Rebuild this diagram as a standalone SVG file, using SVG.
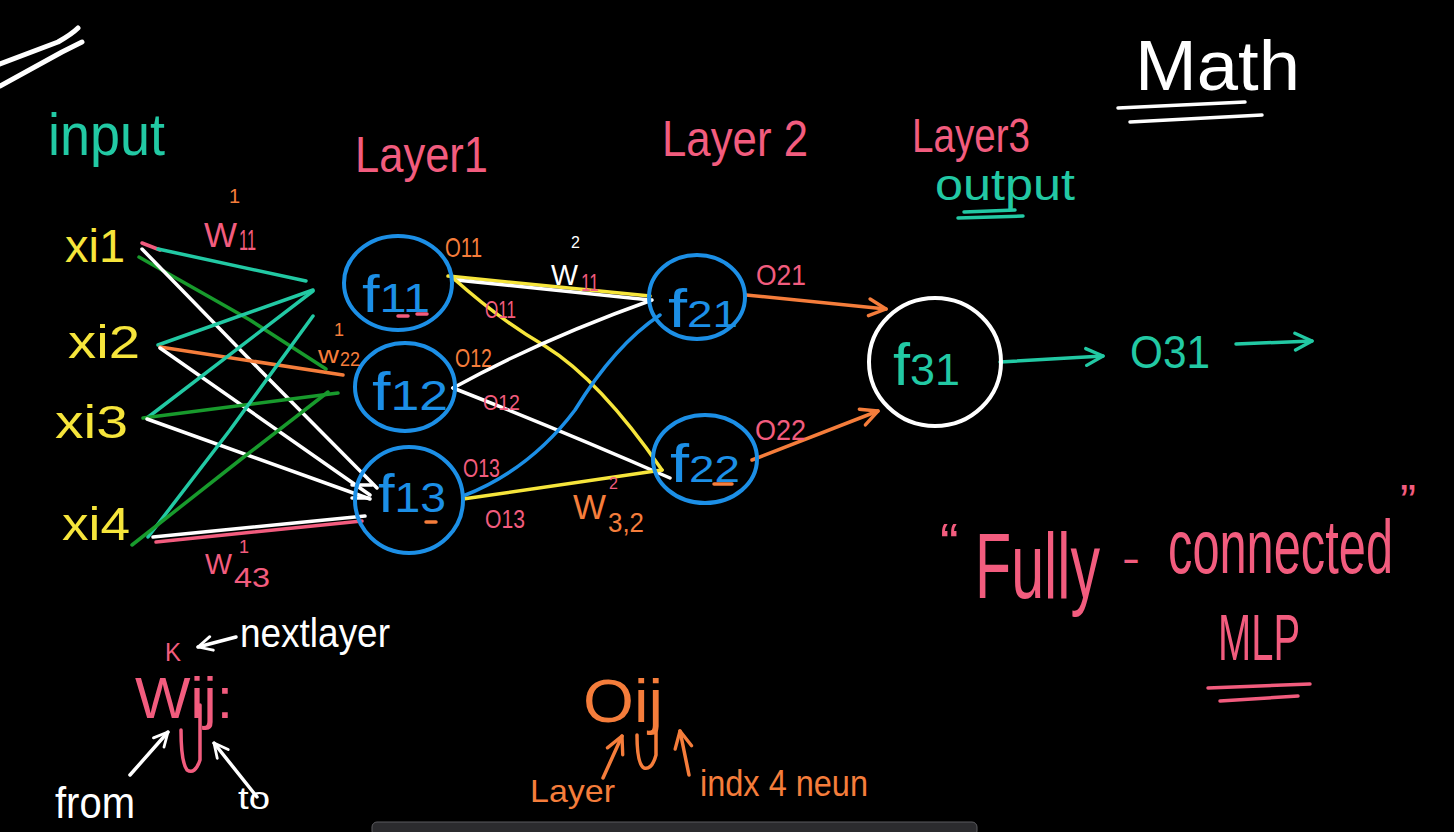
<svg xmlns="http://www.w3.org/2000/svg" width="1454" height="832" viewBox="0 0 1454 832">
<defs>
<style>
.t{font-family:"Liberation Sans","DejaVu Sans",sans-serif;}
.ln{fill:none;stroke-width:3.5;stroke-linecap:round;stroke-linejoin:round;}
.circ{fill:none;stroke:#1c8fe6;stroke-width:4;}
.teal{fill:#22c9a4;} .yel{fill:#f6e53b;} .pink{fill:#f25c7e;} .org{fill:#f57d3b;} .wh{fill:#ffffff;} .blue{fill:#1c8fe6;}
.sTeal{stroke:#22c9a4;} .sYel{stroke:#f6e53b;} .sPink{stroke:#f25c7e;} .sOrg{stroke:#f57d3b;} .sWh{stroke:#ffffff;} .sBlue{stroke:#1c8fe6;} .sGrn{stroke:#189a2c;}
</style>
<marker id="ahOrg" viewBox="0 0 10 10" refX="9" refY="5" markerWidth="6" markerHeight="6" orient="auto" markerUnits="strokeWidth"><path d="M1,1 L9,5 L1,9" fill="none" stroke="#f57d3b" stroke-width="1.6" stroke-linecap="round" stroke-linejoin="round"/></marker>
<marker id="ahTeal" viewBox="0 0 10 10" refX="9" refY="5" markerWidth="6" markerHeight="6" orient="auto" markerUnits="strokeWidth"><path d="M1,1 L9,5 L1,9" fill="none" stroke="#22c9a4" stroke-width="1.6" stroke-linecap="round" stroke-linejoin="round"/></marker>
<marker id="ahWh" viewBox="0 0 10 10" refX="9" refY="5" markerWidth="5" markerHeight="5" orient="auto" markerUnits="strokeWidth"><path d="M1,1 L9,5 L1,9" fill="none" stroke="#ffffff" stroke-width="1.6" stroke-linecap="round" stroke-linejoin="round"/></marker>
</defs>
<rect width="1454" height="832" fill="#000000"/>

<!-- top-left strokes -->
<g id="corner-strokes" class="ln sWh" style="stroke-width:5">
<path d="M0,64 L58,42 Q72,34 78,28"/>
<path d="M0,86 L62,52 Q74,46 82,42"/>
</g>

<!-- headings -->
<g id="headings" class="t">
<text class="teal" x="48" y="155" font-size="60" textLength="117" lengthAdjust="spacingAndGlyphs">input</text>
<text class="pink" x="355" y="172" font-size="50" textLength="133" lengthAdjust="spacingAndGlyphs">Layer1</text>
<text class="pink" x="662" y="156" font-size="50" textLength="146" lengthAdjust="spacingAndGlyphs">Layer 2</text>
<text class="pink" x="912" y="152" font-size="48" textLength="118" lengthAdjust="spacingAndGlyphs">Layer3</text>
<text class="teal" x="935" y="200" font-size="44" textLength="140" lengthAdjust="spacingAndGlyphs">output</text>
<path class="ln sTeal" d="M964,212 L1015,210 M958,218 L1023,216"/>
<text class="wh" x="1135" y="90" font-size="70" textLength="165" lengthAdjust="spacingAndGlyphs">Math</text>
<path class="ln sWh" d="M1118,108 L1245,102 M1130,122 L1262,115"/>
</g>

<!-- connectors -->
<g id="connectors">
<!-- input -> layer1 -->
<path class="ln sPink" d="M142,243 L160,250"/>
<path class="ln sTeal" d="M158,249 L306,281"/>
<path class="ln sGrn" d="M139,257 L250,320 L326,369"/>
<path class="ln sWh" d="M142,249 L260,370 L377,488"/>
<path class="ln sTeal" d="M158,345 L313,290"/>
<path class="ln sOrg" d="M160,347 L343,375"/>
<path class="ln sWh" d="M160,348 L370,495"/>
<path class="ln sTeal" d="M147,418 L313,291"/>
<path class="ln sGrn" d="M143,418 L338,393"/>
<path class="ln sWh" d="M147,419 L370,499"/>
<path class="ln sTeal" d="M148,537 L230,430 L313,316"/>
<path class="ln sGrn" d="M132,545 L240,460 L328,392"/>
<path class="ln sPink" d="M156,542 L362,521"/>
<path class="ln sWh" d="M153,537 L365,516"/>
<path class="ln sWh" d="M352,485 L372,485 M352,498 L368,498"/>
<!-- layer1 -> layer2 -->
<path class="ln sYel" d="M448,276 L650,296"/>
<path class="ln sWh" d="M456,280 L650,300"/>
<path class="ln sYel" d="M453,278 Q500,320 545,346 Q600,380 662,470"/>
<path class="ln sWh" d="M453,388 Q540,340 652,300"/>
<path class="ln sWh" d="M453,388 Q560,430 670,478"/>
<path class="ln sBlue" d="M463,496 Q530,470 575,410 Q615,345 660,315"/>
<path class="ln sYel" d="M463,499 L662,470"/>
<!-- layer2 -> layer3 -->
<path class="ln sOrg" d="M746,295 L886,309" marker-end="url(#ahOrg)"/>
<path class="ln sOrg" d="M752,460 L878,411" marker-end="url(#ahOrg)"/>
<!-- output -->
<path class="ln sTeal" d="M1000,362 L1103,356" marker-end="url(#ahTeal)"/>
<path class="ln sTeal" d="M1236,344 L1312,341" marker-end="url(#ahTeal)"/>
</g>

<!-- input nodes -->
<g id="x1" class="t"><text class="yel" x="65" y="262" font-size="46" textLength="60" lengthAdjust="spacingAndGlyphs">xi1</text></g>
<g id="x2" class="t"><text class="yel" x="68" y="358" font-size="46" textLength="72" lengthAdjust="spacingAndGlyphs">xi2</text></g>
<g id="x3" class="t"><text class="yel" x="55" y="438" font-size="46" textLength="73" lengthAdjust="spacingAndGlyphs">xi3</text></g>
<g id="x4" class="t"><text class="yel" x="62" y="540" font-size="46" textLength="68" lengthAdjust="spacingAndGlyphs">xi4</text></g>

<!-- layer 1 -->
<g id="f11"><ellipse class="circ" cx="398" cy="283" rx="54" ry="47"/>
<text class="t blue" x="362" y="312" font-size="52" textLength="68" lengthAdjust="spacingAndGlyphs">f<tspan font-size="40">11</tspan></text>
<path class="ln sPink" d="M398,316 L408,316 M417,314 L427,314"/></g>
<g id="f12"><ellipse class="circ" cx="405" cy="387" rx="50" ry="44"/>
<text class="t blue" x="372" y="410" font-size="54" textLength="76" lengthAdjust="spacingAndGlyphs">f<tspan font-size="42">12</tspan></text></g>
<g id="f13"><ellipse class="circ" cx="409" cy="500" rx="54" ry="53"/>
<text class="t blue" x="378" y="512" font-size="54" textLength="68" lengthAdjust="spacingAndGlyphs">f<tspan font-size="42">13</tspan></text>
<path class="ln sOrg" d="M426,522 L436,522"/></g>

<!-- layer 2 -->
<g id="f21"><ellipse class="circ" cx="697" cy="297" rx="48" ry="42"/>
<text class="t blue" x="668" y="327" font-size="54" textLength="70" lengthAdjust="spacingAndGlyphs">f<tspan font-size="36">21</tspan></text></g>
<g id="f22"><ellipse class="circ" cx="705" cy="459" rx="52" ry="44"/>
<text class="t blue" x="670" y="482" font-size="54" textLength="70" lengthAdjust="spacingAndGlyphs">f<tspan font-size="36">22</tspan></text>
<path class="ln sOrg" d="M714,484 L732,484"/></g>

<!-- layer 3 -->
<g id="f31"><ellipse cx="935" cy="362" rx="66" ry="64" fill="none" stroke="#ffffff" stroke-width="4"/>
<text class="t teal" x="893" y="385" font-size="60" textLength="67" lengthAdjust="spacingAndGlyphs">f<tspan font-size="44">31</tspan></text></g>
<g id="o31" class="t"><text class="teal" x="1130" y="368" font-size="46" textLength="80" lengthAdjust="spacingAndGlyphs">O31</text></g>

<!-- edge labels -->
<g id="labels" class="t">
<text class="pink" x="204" y="247" font-size="35" textLength="33" lengthAdjust="spacingAndGlyphs">W</text>
<text class="pink" x="239" y="250" font-size="30" textLength="17" lengthAdjust="spacingAndGlyphs">11</text>
<text class="org" x="229" y="203" font-size="20">1</text>
<text class="org" x="318" y="363" font-size="24" textLength="21" lengthAdjust="spacingAndGlyphs">w</text>
<text class="org" x="340" y="366" font-size="20" textLength="20" lengthAdjust="spacingAndGlyphs">22</text>
<text class="org" x="334" y="336" font-size="18">1</text>
<text class="pink" x="205" y="574" font-size="29" textLength="27" lengthAdjust="spacingAndGlyphs">W</text>
<text class="pink" x="234" y="587" font-size="28" textLength="36" lengthAdjust="spacingAndGlyphs">43</text>
<text class="pink" x="239" y="553" font-size="18">1</text>
<text class="org" x="445" y="257" font-size="28" textLength="37" lengthAdjust="spacingAndGlyphs">O11</text>
<text class="pink" x="485" y="318" font-size="23" textLength="31" lengthAdjust="spacingAndGlyphs">O11</text>
<text class="org" x="455" y="367" font-size="26" textLength="37" lengthAdjust="spacingAndGlyphs">O12</text>
<text class="pink" x="483" y="410" font-size="22" textLength="37" lengthAdjust="spacingAndGlyphs">O12</text>
<text class="pink" x="463" y="477" font-size="26" textLength="37" lengthAdjust="spacingAndGlyphs">O13</text>
<text class="pink" x="485" y="528" font-size="26" textLength="40" lengthAdjust="spacingAndGlyphs">O13</text>
<text class="wh" x="551" y="285" font-size="29" textLength="27" lengthAdjust="spacingAndGlyphs">W</text>
<text class="wh" x="571" y="248" font-size="16">2</text>
<text class="pink" x="581" y="291" font-size="24" textLength="18" lengthAdjust="spacingAndGlyphs">11</text>
<text class="org" x="573" y="519" font-size="35" textLength="33" lengthAdjust="spacingAndGlyphs">W</text>
<text class="pink" x="609" y="489" font-size="16">2</text>
<text class="org" x="608" y="532" font-size="28" textLength="36" lengthAdjust="spacingAndGlyphs">3,2</text>
<text class="pink" x="756" y="285" font-size="30" textLength="50" lengthAdjust="spacingAndGlyphs">O21</text>
<text class="pink" x="755" y="440" font-size="30" textLength="51" lengthAdjust="spacingAndGlyphs">O22</text>
</g>

<!-- notes -->
<g id="notes" class="t">
<text class="pink" x="165" y="661" font-size="26" textLength="16" lengthAdjust="spacingAndGlyphs">K</text>
<path class="ln sWh" d="M236,637 L198,647" marker-end="url(#ahWh)"/>
<text class="wh" x="240" y="647" font-size="40" textLength="150" lengthAdjust="spacingAndGlyphs">nextlayer</text>
<text class="pink" x="135" y="718" font-size="58" textLength="98" lengthAdjust="spacingAndGlyphs">Wij:</text>
<path class="ln sPink" d="M200,705 L200,760 Q195,775 187,770 Q181,762 181,730"/>
<text class="wh" x="55" y="818" font-size="44" textLength="80" lengthAdjust="spacingAndGlyphs">from</text>
<path class="ln sWh" d="M130,775 L168,732" marker-end="url(#ahWh)"/>
<path class="ln sWh" d="M257,797 L214,743" marker-end="url(#ahWh)"/>
<text class="wh" x="238" y="809" font-size="32" textLength="32" lengthAdjust="spacingAndGlyphs">to</text>
<text class="org" x="583" y="722" font-size="62" textLength="80" lengthAdjust="spacingAndGlyphs">Oij</text>
<path class="ln sOrg" d="M656,705 L656,755 Q652,770 644,768 Q637,764 637,735"/>
<text class="org" x="530" y="802" font-size="32" textLength="85" lengthAdjust="spacingAndGlyphs">Layer</text>
<path class="ln sOrg" d="M603,778 L622,736" marker-end="url(#ahOrg)"/>
<path class="ln sOrg" d="M689,775 L680,731" marker-end="url(#ahOrg)"/>
<text class="org" x="700" y="796" font-size="36" textLength="168" lengthAdjust="spacingAndGlyphs">indx 4 neun</text>
<text class="pink" x="940" y="562" font-size="56">“</text>
<text class="pink" transform="translate(975,598) scale(1,1.5)" font-size="62" textLength="125" lengthAdjust="spacingAndGlyphs">Fully</text>
<text class="pink" x="1122" y="572" font-size="40" textLength="18" lengthAdjust="spacingAndGlyphs">-</text>
<text class="pink" transform="translate(1168,573) scale(1,1.55)" font-size="49" textLength="225" lengthAdjust="spacingAndGlyphs">connected</text>
<text class="pink" x="1400" y="518" font-size="48">”</text>
<text class="pink" transform="translate(1218,660) scale(1,1.6)" font-size="40" textLength="82" lengthAdjust="spacingAndGlyphs">MLP</text>
<path class="ln sPink" d="M1208,688 L1310,684 M1220,701 L1298,696"/>
</g>

<!-- bottom toolbar -->
<g id="toolbar">
<rect x="372" y="822" width="605" height="14" rx="5" fill="#2b2b2e" stroke="#5a5a5e" stroke-width="1"/>
</g>
</svg>
